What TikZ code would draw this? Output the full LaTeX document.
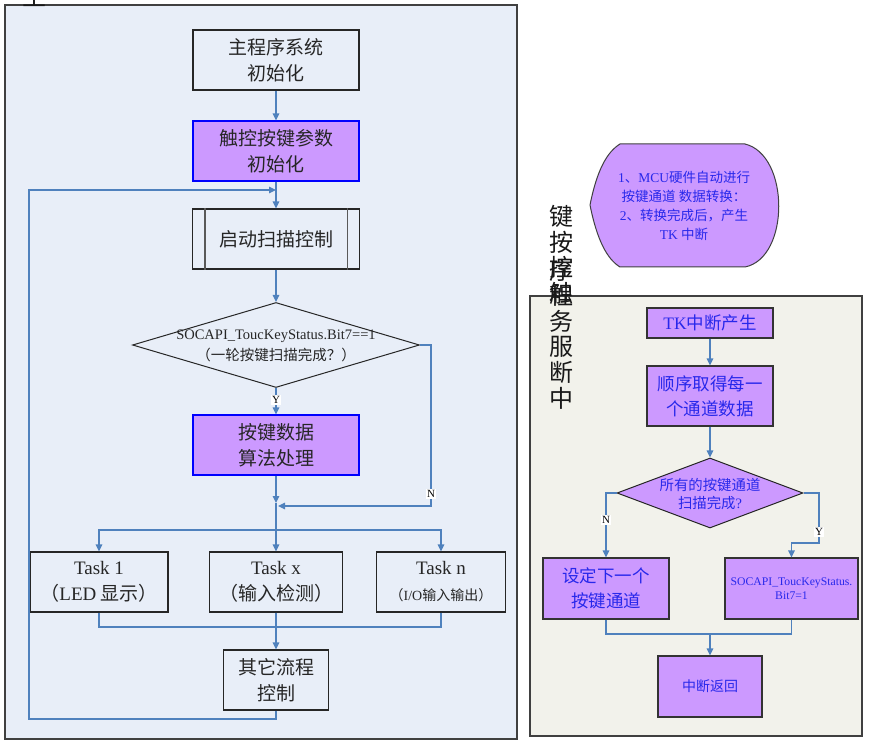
\documentclass[tikz,border=0pt]{standalone}
\usepackage{fontspec}
\setmainfont{Liberation Serif}
\newfontfamily\cjk{Noto Sans CJK SC}
\usetikzlibrary{arrows.meta,shapes.geometric}
\definecolor{lnk}{RGB}{79,129,189}
\definecolor{pur}{RGB}{204,153,255}
\definecolor{lbg}{RGB}{232,238,248}
\definecolor{rbg}{RGB}{242,242,235}
\definecolor{bluetxt}{RGB}{40,40,235}
\newcommand\lat[1]{{\rmfamily #1}}
\newcommand\fs[2]{\fontsize{#1}{#2}\selectfont}
\begin{document}
\begin{tikzpicture}[x=1pt,y=-1pt,
  plain/.style={rectangle, draw=black!85, line width=1.1pt, fill=lbg, inner sep=0pt,
    align=center, font=\cjk\fs{19}{26}, text=black!85},
  purl/.style={plain, fill=pur, draw=blue},
  rbox/.style={rectangle, draw=black!80, line width=1.1pt, fill=pur, inner sep=0pt,
    align=center, text=bluetxt, font=\cjk\fs{17.5}{25}},
  dia/.style={diamond, draw=black!85, line width=1pt, inner sep=0pt},
  conn/.style={draw=lnk, line width=1.2pt},
  arr/.style={conn, -{Triangle[length=7pt,width=6.5pt]}},
  yn/.style={fill=white, inner sep=1pt, font=\fs{11}{12}, text=black},
  vch/.style={font=\cjk\fs{24}{24}, text=black!90, inner sep=0pt}
]
\useasboundingbox (0,0) rectangle (871,743);
\fill[white] (0,0) rectangle (871,743);

% panels
\draw[fill=lbg, draw=black!75, line width=1.3pt] (5,5) rectangle (517,739);
\draw[fill=rbg, draw=black!75, line width=1.3pt] (530,296) rectangle (862,736);
\node[vch, anchor=base] (zhu) at (35,6) {主};

% left flow
\node[plain, minimum width=166, minimum height=60] (b1) at (276,60) {主程序系统\\初始化};
\node[purl, minimum width=166, minimum height=60] (b2) at (276,151) {触控按键参数\\初始化};
\node[plain, minimum width=167, minimum height=60] (b3) at (276,239) {启动扫描控制};
\draw[black!65, line width=1.1pt] ([xshift=13pt]b3.north west) -- ([xshift=13pt]b3.south west);
\draw[black!65, line width=1.1pt] ([xshift=-13pt]b3.north east) -- ([xshift=-13pt]b3.south east);
\node[dia, minimum width=287, minimum height=85] (d1) at (276,345) {};
\node[font=\cjk\fs{14.5}{21}, align=center, text=black!85, inner sep=0pt] (d1t) at (276,346)
  {\lat{SOCAPI\_ToucKeyStatus.Bit7==1}\\（一轮按键扫描完成？）};
\node[purl, minimum width=166, minimum height=60] (b4) at (276,445) {按键数据\\算法处理};

\node[plain, minimum width=138, minimum height=60] (t1) at (99,582) {\lat{Task 1}\\（\lat{LED} 显示）};
\node[plain, minimum width=133, minimum height=60] (tx) at (276,582) {\lat{Task x}\\（输入检测）};
\node[plain, minimum width=129, minimum height=60] (tn) at (441,582) {\lat{Task n}\\{\fs{14}{20}（\lat{I/O}输入输出）}};
\node[plain, minimum width=105, minimum height=60] (b5) at (276,680) {其它流程\\控制};

\coordinate (j0) at (276,190);
\coordinate (j1) at (276,503);
\coordinate (j2) at (278,506);
\coordinate (sp) at (276,530);
\coordinate (mg) at (276,627);

\draw[arr] (b1) -- (b2);
\draw[arr] (b2) -- (b3);
\draw[arr] (b3) -- (d1);
\draw[arr] (d1) -- (b4);
\node[yn] (ylab) at (276,400) {Y};
\draw[arr] (d1.east) -- (431,345) -- (431,506) -- (j2);
\node[yn] (nlab) at (431,494) {N};
\draw[arr] (b4.south) -- (j1);
\draw[conn] (j1) -- (sp);
\draw[arr] (sp) -| (t1.north);
\draw[arr] (sp) -- (tx.north);
\draw[arr] (sp) -| (tn.north);
\draw[conn] (t1.south) |- (mg);
\draw[conn] (tn.south) |- (mg);
\draw[arr] (tx.south) -- (b5.north);
\draw[arr] (b5.south) |- (29,719) -- (29,190) -- (j0);

% right: callout
\draw[fill=pur, draw=black!75, line width=1pt]
  (590,205) .. controls (597,170) and (607,152) .. (620,144) -- (745,144)
  .. controls (790,155) and (790,258) .. (745,267) -- (620,267)
  .. controls (607,259) and (597,240) .. (590,205);
\node[font=\cjk\fs{13.5}{19}, align=center, text=bluetxt, inner sep=0pt] (callt) at (684,206)
  {\lat{1}、\lat{MCU}硬件自动进行\\按键通道 数据转换：\\\lat{2}、转换完成后，产生\\\lat{TK} 中断};

% vertical title
\node[vch] (v1) at (561,216.5) {键};
\node[vch] (v2) at (561,242) {按};
\node[vch] (v3) at (561,267.5) {控};
\node[vch] (v4) at (561,293) {触};
\node[vch] (v5) at (561,270.5) {序};
\node[vch] (v6) at (561,296) {程};
\node[vch] (v7) at (561,321.5) {务};
\node[vch] (v8) at (561,347) {服};
\node[vch] (v9) at (561,372.5) {断};
\node[vch] (v10) at (561,398) {中};

% right flow
\node[rbox, minimum width=126, minimum height=30] (r1) at (710,323) {\lat{TK}中断产生};
\node[rbox, minimum width=126, minimum height=60] (r2) at (710,396) {顺序取得每一\\个通道数据};
\node[dia, fill=pur, minimum width=186, minimum height=70] (d2) at (710,493) {};
\node[font=\cjk\fs{14.4}{18}, align=center, text=bluetxt, inner sep=0pt] (d2t) at (710,494)
  {所有的按键通道\\扫描完成\lat{?}};
\node[rbox, minimum width=126, minimum height=61] (r3) at (606,588.5) {设定下一个\\按键通道};
\node[rbox, minimum width=133, minimum height=61, font=\fs{11.7}{13.5}] (r4) at (791.5,588.5)
  {SOCAPI\_ToucKeyStatus.\\Bit7=1};
\node[rbox, minimum width=104, minimum height=61, font=\cjk\fs{14}{18}] (r5) at (710,686.5) {中断返回};

\coordinate (mg2) at (710,634);
\draw[arr] (r1) -- (r2);
\draw[arr] (r2) -- (d2);
\draw[arr] (d2.west) -| (r3.north);
\node[yn] (n2) at (606,520) {N};
\draw[arr] (d2.east) -- (819,493) -- (819,543) -| (r4.north);
\node[yn] (y2) at (819,532) {Y};
\draw[conn] (r3.south) |- (mg2) -| (r4.south);
\draw[arr] (mg2) -- (r5.north);
\end{tikzpicture}
\end{document}
